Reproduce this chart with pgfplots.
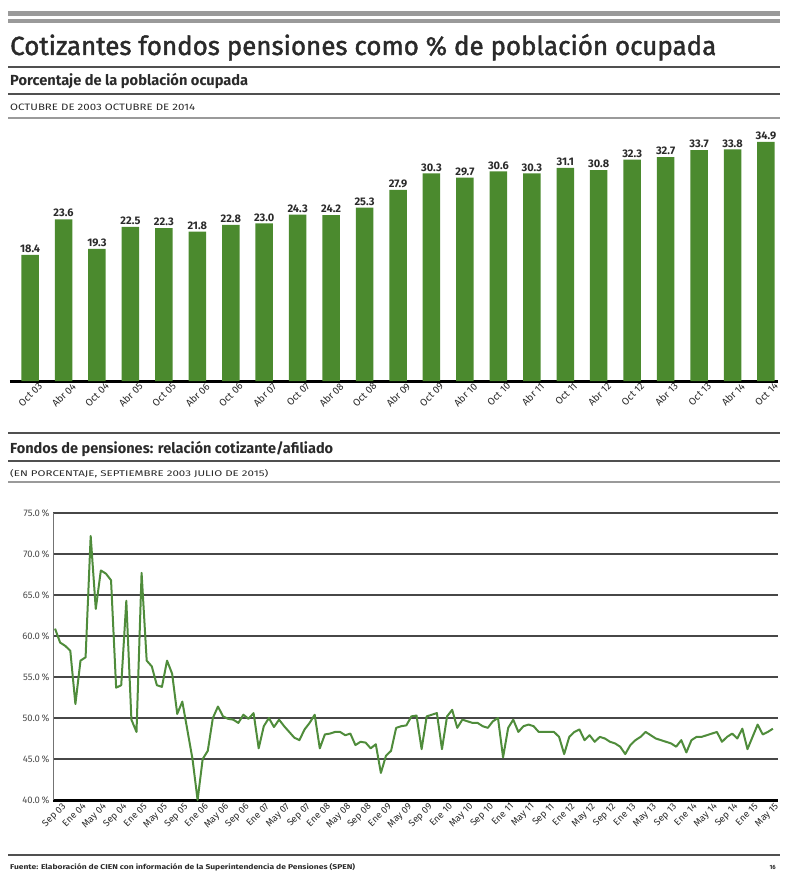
\documentclass[border=0pt]{standalone}
\usepackage{pgfplots}
\pgfplotsset{compat=1.18}
\usepackage{pgfplotstable}
\usepackage{graphicx}
\usepackage{fontspec}
\setmainfont{Fira Sans}
\newfontfamily\titlefont[RawFeature={embolden=1.6}]{Fira Sans}
\definecolor{bargreen}{HTML}{4B8A2E}
\definecolor{linegreen}{HTML}{4F8C3B}
\definecolor{rulegray}{HTML}{9A9A9A}
\definecolor{darkrule}{HTML}{505050}
\definecolor{txt}{HTML}{2A2A2A}
\pgfplotsset{/pgf/number format/assume math mode=true}

\pgfplotstableread{
idx val
0 18.4
1 23.6
2 19.3
3 22.5
4 22.3
5 21.8
6 22.8
7 23.0
8 24.3
9 24.2
10 25.3
11 27.9
12 30.3
13 29.7
14 30.6
15 30.3
16 31.1
17 30.8
18 32.3
19 32.7
20 33.7
21 33.8
22 34.9
}\bardata

\pgfplotstableread{
idx val
0 60.9
1 59.2
2 58.8
3 58.2
4 51.7
5 57.0
6 57.4
7 72.2
8 63.3
9 68.0
10 67.6
11 66.8
12 53.7
13 54.0
14 64.3
15 49.8
16 48.3
17 67.7
18 57.0
19 56.3
20 54.0
21 53.8
22 57.0
23 55.4
24 50.5
25 52.0
26 48.5
27 45.0
28 40.0
29 45.0
30 46.0
31 50.0
32 51.4
33 50.2
34 49.9
35 49.8
36 49.4
37 50.4
38 49.9
39 50.6
40 46.3
41 49.0
42 50.0
43 48.9
44 49.8
45 49.0
46 48.3
47 47.6
48 47.3
49 48.6
50 49.4
51 50.4
52 46.3
53 48.0
54 48.1
55 48.3
56 48.3
57 47.9
58 48.1
59 46.7
60 47.1
61 47.0
62 46.3
63 46.8
64 43.3
65 45.4
66 46.0
67 48.8
68 49.0
69 49.1
70 50.2
71 50.3
72 46.2
73 50.2
74 50.4
75 50.6
76 46.2
77 50.2
78 51.0
79 48.8
80 49.8
81 49.6
82 49.4
83 49.4
84 49.0
85 48.8
86 49.6
87 50.0
88 45.2
89 48.8
90 49.8
91 48.3
92 49.0
93 49.2
94 49.0
95 48.3
96 48.3
97 48.3
98 48.3
99 47.7
100 45.6
101 47.7
102 48.3
103 48.6
104 47.3
105 47.9
106 47.1
107 47.7
108 47.5
109 47.1
110 46.9
111 46.5
112 45.6
113 46.7
114 47.3
115 47.7
116 48.3
117 47.9
118 47.5
119 47.3
120 47.1
121 46.9
122 46.5
123 47.3
124 45.8
125 47.3
126 47.7
127 47.7
128 47.9
129 48.1
130 48.3
131 47.1
132 47.7
133 48.1
134 47.5
135 48.7
136 46.2
137 47.7
138 49.2
139 48.0
140 48.3
141 48.7
}\linedata

\begin{document}
\begin{tikzpicture}[x=1pt,y=1pt]
\path[use as bounding box] (0,0) rectangle (785,-877);
% header rules
\fill[rulegray] (8,-11) rectangle (780,-16);
\fill[rulegray] (8,-19) rectangle (780,-23);
\node[anchor=base west, inner sep=0, text=txt] at (10,-55) {\resizebox{706pt}{21pt}{\titlefont Cotizantes fondos pensiones como \% de población ocupada}};
\draw[darkrule, line width=1.5pt] (8,-67) -- (780,-67);
\node[anchor=base west, inner sep=0, text=txt] at (10,-86) {\resizebox{238pt}{!}{\bfseries Porcentaje de la población ocupada}};
\draw[darkrule, line width=1.2pt] (8,-94) -- (780,-94);
\node[anchor=base west, inner sep=0, text=txt] at (10,-111) {\resizebox{185pt}{6.5pt}{OCTUBRE DE 2003 OCTUBRE DE 2014}};
\draw[rulegray, line width=2pt] (8,-118) -- (780,-118);
% middle rules
\draw[darkrule, line width=1.5pt] (8,-433) -- (780,-433);
\node[anchor=base west, inner sep=0, text=txt] at (10,-453) {\resizebox{323pt}{!}{\bfseries Fondos de pensiones: relación cotizante/afiliado}};
\draw[darkrule, line width=1.2pt] (8,-461) -- (780,-461);
\node[anchor=base west, inner sep=0, text=txt] at (10,-476) {\resizebox{258pt}{7pt}{(EN PORCENTAJE, SEPTIEMBRE 2003 JULIO DE 2015)}};
\draw[rulegray, line width=2pt] (8,-482) -- (780,-482);
% bottom
\draw[darkrule, line width=1.5pt] (8,-855) -- (780,-855);
\node[anchor=base west, inner sep=0, text=txt] at (10,-869) {\resizebox{345pt}{6pt}{\bfseries Fuente: Elaboración de CIEN con información de la Superintendencia de Pensiones (SPEN)}};
\node[anchor=base east, inner sep=0, text=txt] at (776,-869) {\bfseries\fontsize{6}{6}\selectfont 16};

% bar chart
\begin{axis}[
  at={(10pt,-381pt)}, anchor=south west, scale only axis,
  width=768pt, height=260.3pt,
  xmin=-0.6, xmax=22.36, ymin=0, ymax=38,
  axis x line*=bottom, axis y line=none,
  x axis line style={line width=3pt, black},
  xtick={0,...,22},
  xticklabels={Oct 03,Abr 04,Oct 04,Abr 05,Oct 05,Abr 06,Oct 06,Abr 07,Oct 07,Abr 08,Oct 08,Abr 09,Oct 09,Abr 10,Oct 10,Abr 11,Oct 11,Abr 12,Oct 12,Abr 13,Oct 13,Abr 14,Oct 14},
  xticklabel style={rotate=45, anchor=north east, font=\fontsize{10}{10}\selectfont, text=txt, inner sep=1pt, xshift=6pt, yshift=-5pt},
  major tick length=0pt,
  ybar, bar width=17.5pt,
  nodes near coords={\pgfmathprintnumber[fixed,fixed zerofill,precision=1]{\pgfplotspointmeta}},
  nodes near coords style={font=\bfseries\fontsize{11}{11}\selectfont, text=txt, inner sep=2pt},
  clip=false,
]
\addplot[fill=bargreen, draw=none] table[x=idx,y=val]{\bardata};
\end{axis}

% line chart
\begin{axis}[
  at={(53pt,-800pt)}, anchor=south west, scale only axis,
  width=725pt, height=287pt,
  xmin=-0.4, xmax=142, ymin=40, ymax=75,
  axis x line*=bottom, axis y line*=left,
  x axis line style={line width=3pt, black},
  y axis line style={line width=0.8pt, black!55},
  ytick={40,45,...,75},
  yticklabels={40.0\,\%,45.0\,\%,50.0\,\%,55.0\,\%,60.0\,\%,65.0\,\%,70.0\,\%,75.0\,\%},
  yticklabel style={font=\fontsize{9.5}{9.5}\selectfont, text=black!70},
  ymajorgrids, grid style={line width=1.4pt, black!72},
  xtick={0,4,...,140},
  xticklabels={Sep 03,Ene 04,May 04,Sep 04,Ene 05,May 05,Sep 05,Ene 06,May 06,Sep 06,Ene 07,May 07,Sep 07,Ene 08,May 08,Sep 08,Ene 09,May 09,Sep 09,Ene 10,May 10,Sep 10,Ene 11,May 11,Sep 11,Ene 12,May 12,Sep 12,Ene 13,May 13,Sep 13,Ene 14,May 14,Sep 14,Ene 15,May 15},
  xticklabel style={rotate=45, anchor=north east, font=\fontsize{9.5}{9.5}\selectfont, text=txt, inner sep=1pt, xshift=4pt, yshift=-5pt},
  major tick length=0pt,
]
\addplot[linegreen, line width=2pt, line join=round] table[x=idx,y=val]{\linedata};
\end{axis}
\end{tikzpicture}
\end{document}
